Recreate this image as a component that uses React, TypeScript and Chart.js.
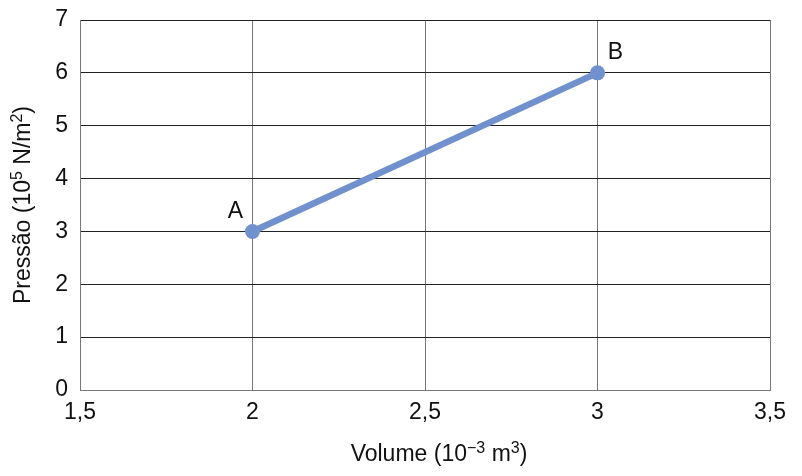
import React, { useEffect, useRef } from "react";
import { Chart, registerables, Plugin } from "chart.js";

Chart.register(...registerables);

// data
const volumes: number[] = [2, 3];
const pressures: number[] = [3, 6];
const pointNames: string[] = ["A", "B"];
const xTicks: number[] = [1.5, 2, 2.5, 3, 3.5];
const yTicks: number[] = [0, 1, 2, 3, 4, 5, 6, 7];

// axis titles, [text, isSuperscript]
const xTitleParts: [string, boolean][] = [
  ["Volume (10", false],
  ["\u22123", true],
  [" m", false],
  ["3", true],
  [")", false],
];
const yTitleParts: [string, boolean][] = [
  ["Pressão (10", false],
  ["5", true],
  [" N/m", false],
  ["2", true],
  [")", false],
];

const FONT = '"Liberation Sans", Arial, sans-serif';
const TEXT = "#111";
const LINE = "rgb(112, 145, 206)";

const drawRich = (
  ctx: CanvasRenderingContext2D,
  parts: [string, boolean][],
  cx: number,
  cy: number,
  size: number
) => {
  const sup = Math.round(size * 0.7);
  let total = 0;
  parts.forEach(([t, s]) => {
    ctx.font = `${s ? sup : size}px ${FONT}`;
    total += ctx.measureText(t).width;
  });
  let x = cx - total / 2;
  ctx.textBaseline = "middle";
  ctx.textAlign = "left";
  parts.forEach(([t, s]) => {
    ctx.font = `${s ? sup : size}px ${FONT}`;
    ctx.fillText(t, x, s ? cy - size * 0.3 : cy);
    x += ctx.measureText(t).width;
  });
};

const labelsPlugin: Plugin<"scatter"> = {
  id: "labels",
  afterDraw(chart) {
    const { ctx, chartArea } = chart;
    const xs = chart.scales.x;
    const ys = chart.scales.y;
    ctx.save();
    ctx.fillStyle = TEXT;
    // point names
    ctx.font = `23px ${FONT}`;
    ctx.textAlign = "center";
    ctx.textBaseline = "middle";
    volumes.forEach((v, i) => {
      const px = xs.getPixelForValue(v);
      const py = ys.getPixelForValue(pressures[i]);
      const dx = i === 0 ? -17 : 18;
      ctx.fillText(pointNames[i], px + dx, py - 20);
    });
    // x title
    drawRich(ctx, xTitleParts, (chartArea.left + chartArea.right) / 2 + 14, 455, 23);
    // y title (rotated)
    ctx.translate(24, (chartArea.top + chartArea.bottom) / 2);
    ctx.rotate(-Math.PI / 2);
    drawRich(ctx, yTitleParts, 0, 0, 23);
    ctx.restore();
  },
};

const App: React.FC = () => {
  const canvasRef = useRef<HTMLCanvasElement>(null);

  useEffect(() => {
    if (!canvasRef.current) return;
    const chart = new Chart(canvasRef.current, {
      type: "scatter",
      data: {
        datasets: [
          {
            data: volumes.map((v, i) => ({ x: v, y: pressures[i] })),
            showLine: true,
            borderColor: LINE,
            backgroundColor: LINE,
            borderWidth: 6.5,
            pointRadius: 7.5,
            pointBorderWidth: 0,
          },
        ],
      },
      options: {
        animation: false,
        responsive: true,
        maintainAspectRatio: false,
        layout: { padding: { top: 20, right: 32, left: 0, bottom: 0 } },
        plugins: { legend: { display: false }, tooltip: { enabled: false } },
        scales: {
          x: {
            type: "linear",
            min: xTicks[0],
            max: xTicks[xTicks.length - 1],
            afterBuildTicks: (s) => {
              s.ticks = xTicks.map((v) => ({ value: v }));
            },
            afterFit: (s) => {
              s.height = 86;
              s.paddingLeft = 0;
              s.paddingRight = 0;
            },
            ticks: {
              color: TEXT,
              font: { size: 23, family: FONT },
              padding: 9,
              maxRotation: 0,
              callback: (v) => String(v).replace(".", ","),
            },
            grid: { color: "#777", lineWidth: 1, drawTicks: false },
            border: { color: "#777" },
          },
          y: {
            type: "linear",
            min: yTicks[0],
            max: yTicks[yTicks.length - 1],
            afterBuildTicks: (s) => {
              s.ticks = yTicks.map((v) => ({ value: v }));
            },
            afterFit: (s) => {
              s.width = 80;
              s.paddingTop = 0;
              s.paddingBottom = 0;
            },
            ticks: {
              color: TEXT,
              font: { size: 23, family: FONT },
              padding: 12,
            },
            grid: {
              color: (c) => (c.tick && c.tick.value === 0 ? "#777" : "#222"),
              lineWidth: 1,
              drawTicks: false,
            },
            border: { color: "#777" },
          },
        },
      },
      plugins: [labelsPlugin],
    });
    return () => chart.destroy();
  }, []);

  return (
    <div
      style={{
        position: "absolute",
        left: 0,
        top: 0,
        width: "802px",
        height: "476px",
        background: "#fff",
      }}
    >
      <canvas ref={canvasRef}></canvas>
    </div>
  );
};

export default App;
